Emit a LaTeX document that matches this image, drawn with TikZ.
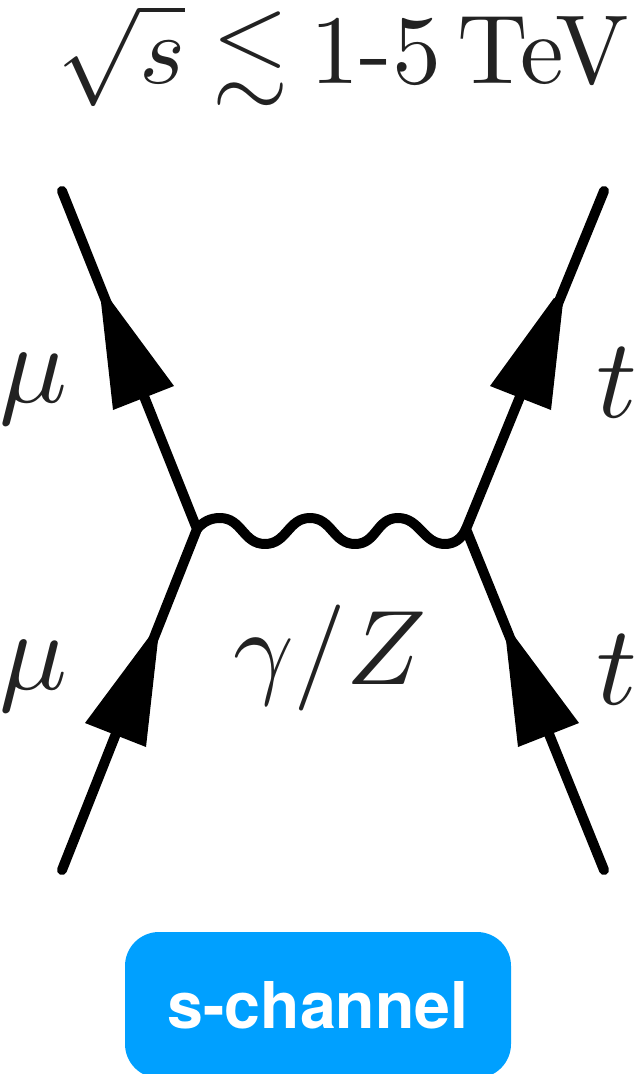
\documentclass[tikz,border=0pt]{standalone}
\usepackage{amsmath,amssymb}
\usepackage{fontspec}
\setsansfont{TeX Gyre Heros}
\definecolor{ink}{HTML}{000000}
\definecolor{txt}{HTML}{222222}
\definecolor{pill}{HTML}{00A0FF}
\tikzset{
 fermion/.style={line width=10pt,draw=ink,line cap=round},
 wave/.style={line width=10pt,draw=ink,line cap=round,line join=round},
 head/.style={fill=ink,draw=none},
 lbl/.style={inner sep=0pt,text=txt,scale=11.3},
 midlbl/.style={inner sep=0pt,text=txt,scale=10.6},
 biglbl/.style={inner sep=0pt,text=txt,scale=9.8},
 badge/.style={fill=pill,rounded corners=34pt,inner sep=0pt,minimum width=386pt,minimum height=146pt,text=white,font=\sffamily\bfseries\fontsize{64.5}{66}\selectfont}
}
\begin{document}
\begin{tikzpicture}[x=1pt,y=-1pt]
\useasboundingbox (0,0) rectangle (637,1074);
\clip (0,0) rectangle (637,1074);
\coordinate (v1) at (197,529);
\coordinate (v2) at (466,529);
\coordinate (tl) at (62,191);
\coordinate (tr) at (604,191);
\coordinate (bl) at (62,870);
\coordinate (br) at (604,870);
\draw[fermion] (bl)--(v1)--(tl);
\draw[fermion] (br)--(v2)--(tr);
\fill[head] (113,410) -- (174,386) -- (109,298) -- (101,302) -- cycle;
\fill[head] (490,386) -- (551,410) -- (563,302) -- (554,298) -- cycle;
\fill[head] (85,723) -- (146,747) -- (158,640) -- (149,637) -- cycle;
\fill[head] (579,723) -- (518,747) -- (506,640) -- (515,637) -- cycle;
\draw[wave] (v1) .. controls (203,522) and (210,518) .. (220,518)
 .. controls (242,518) and (243,544) .. (265,544)
 .. controls (287,544) and (288,518) .. (310,518)
 .. controls (332,518) and (333,544) .. (355,544)
 .. controls (377,544) and (376,518) .. (398,518)
 .. controls (420,518) and (423,544) .. (445,544)
 .. controls (455,544) and (462,538) .. (v2);
\node[lbl,anchor=base] (mu1) at (34,402) {$\mu$};
\node[lbl,anchor=base] (mu2) at (34,689) {$\mu$};
\node[lbl,anchor=base] (t1) at (617,417) {$t$};
\node[lbl,anchor=base] (t2) at (617,704) {$t$};
\node[midlbl,anchor=base] (gz) at (330,684) {$\gamma/Z$};
\node[biglbl,anchor=base east] (title) at (631,83) {$\sqrt{s}\lesssim\mkern4mu$1-5\,TeV};
\node[badge] (sc) at (318,1005) {s-channel};
\end{tikzpicture}
\end{document}
